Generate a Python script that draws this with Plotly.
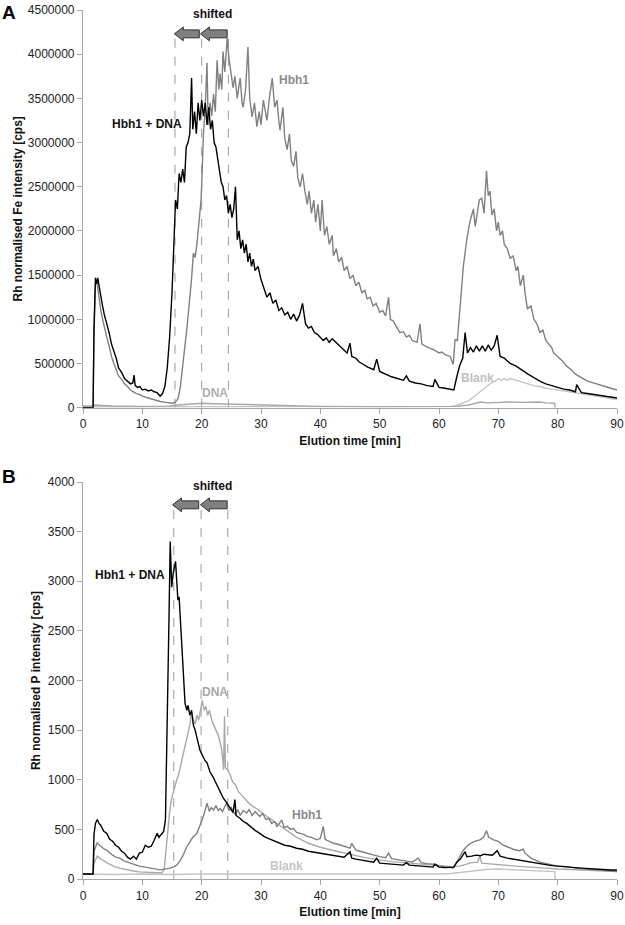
import plotly.graph_objects as go

# ---------------- Panel A: Fe intensity (cps) ----------------
fe_hbh1_dna = [(0,0),(1.7,0),(1.85,900000),(2.1,1470000),(2.3,1400000),(2.5,1470000),(2.7,1380000),(3.0,1250000),(3.3,1150000),(3.6,1050000),(4.0,960000),(4.4,850000),(4.8,720000),(5.2,640000),(5.6,560000),(6.0,450000),(6.5,400000),(7.0,330000),(7.5,300000),(8.0,270000),(8.4,280000),(8.6,370000),(8.8,250000),(9.2,230000),(9.6,240000),(10.0,200000),(10.5,210000),(11.0,190000),(11.5,200000),(12.0,180000),(12.5,170000),(13.0,130000),(13.4,160000),(13.8,240000),(14.2,450000),(14.6,800000),(15.0,1300000),(15.3,1800000),(15.6,2350000),(15.9,2250000),(16.2,2650000),(16.5,2550000),(16.8,2700000),(17.1,2550000),(17.4,2950000),(17.7,3000000),(18.0,3100000),(18.3,3730000),(18.5,3150000),(18.8,3350000),(19.1,3100000),(19.4,3450000),(19.7,3250000),(20.0,3480000),(20.3,3300000),(20.6,3450000),(20.9,3200000),(21.2,3400000),(21.5,3150000),(21.8,3250000),(22.1,3000000),(22.4,2950000),(22.7,2800000),(23.0,2700000),(23.3,2550000),(23.6,2500000),(23.9,2350000),(24.2,2400000),(24.5,2200000),(24.8,2300000),(25.1,2150000),(25.4,2250000),(25.7,2500000),(26.0,1900000),(26.3,2000000),(26.6,1800000),(26.9,1900000),(27.2,1750000),(27.5,1850000),(27.8,1650000),(28.1,1750000),(28.4,1600000),(28.7,1680000),(29.0,1550000),(29.5,1600000),(30.0,1450000),(30.5,1350000),(31.0,1250000),(31.5,1300000),(32.0,1180000),(32.5,1220000),(33.0,1100000),(33.5,1130000),(34.0,1050000),(34.5,1080000),(35.0,1000000),(35.5,1060000),(36.0,980000),(36.5,1050000),(37.0,1180000),(37.5,950000),(38.0,900000),(38.5,920000),(39.0,850000),(39.5,830000),(40.0,800000),(40.5,760000),(41,790000),(41.5,740000),(42,780000),(42.5,750000),(43,720000),(43.5,690000),(44,650000),(44.5,620000),(45,730000),(45.3,580000),(46,560000),(46.5,520000),(47,500000),(47.5,480000),(48,460000),(49,430000),(49.5,550000),(50,410000),(51,380000),(52,350000),(53,330000),(54,310000),(54.5,360000),(55,300000),(56,280000),(57,270000),(58,250000),(59,240000),(59.3,320000),(60,230000),(61,220000),(62,210000),(62.5,200000),(63,350000),(63.5,480000),(64,560000),(64.4,850000),(64.8,620000),(65.3,680000),(65.8,630000),(66.3,700000),(66.8,640000),(67.3,700000),(67.8,640000),(68.3,710000),(68.8,650000),(69.3,700000),(69.8,820000),(70.3,580000),(71,560000),(72,500000),(73,470000),(74,420000),(75,380000),(76,340000),(77,300000),(78,270000),(79,250000),(80,230000),(81,210000),(82,200000),(83,180000),(83.2,260000),(84,170000),(85,160000),(86,150000),(87,140000),(88,130000),(89,120000),(90,110000)]

fe_hbh1 = [(0,0),(1.7,0),(1.85,800000),(2.1,1400000),(2.3,1450000),(2.5,1350000),(2.7,1200000),(3.0,1100000),(3.3,1000000),(3.6,900000),(4.0,800000),(4.4,700000),(4.8,580000),(5.2,500000),(5.6,430000),(6.0,360000),(6.5,320000),(7.0,270000),(7.5,240000),(8.0,200000),(8.5,180000),(9.0,160000),(9.5,150000),(10,130000),(11,110000),(12,90000),(13,70000),(14,60000),(15,50000),(15.5,60000),(16,100000),(16.4,230000),(16.8,450000),(17.2,700000),(17.5,890000),(17.8,1100000),(18.1,1300000),(18.3,1460000),(18.6,1750000),(18.9,1700000),(19.2,1850000),(19.4,2000000),(19.7,2200000),(19.9,2350000),(20.1,2700000),(20.3,3100000),(20.6,3400000),(20.9,3900000),(21.1,3200000),(21.4,3450000),(21.7,3300000),(22.0,3550000),(22.3,3350000),(22.6,3930000),(22.9,3600000),(23.1,3780000),(23.4,3600000),(23.6,4030000),(23.9,3800000),(24.3,4180000),(24.6,3950000),(24.8,3840000),(25.1,3700000),(25.3,3620000),(25.6,3750000),(26.0,3500000),(26.3,3650000),(26.5,3730000),(26.8,3450000),(27.0,3400000),(27.4,3600000),(27.8,4080000),(28.1,3500000),(28.5,3290000),(28.9,3450000),(29.3,3180000),(29.7,3350000),(30.0,3200000),(30.4,3480000),(30.7,3350000),(31.0,3250000),(31.4,3500000),(31.9,3730000),(32.3,3400000),(32.7,3480000),(33.0,3250000),(33.2,3140000),(33.7,3400000),(34.0,3050000),(34.4,2920000),(34.8,3100000),(35.1,2800000),(35.5,2730000),(35.9,2900000),(36.2,2600000),(36.6,2500000),(37.0,2650000),(37.4,2450000),(37.8,2300000),(38.1,2450000),(38.5,2200000),(38.9,2350000),(39.2,2100000),(39.6,2300000),(40.0,2000000),(40.3,2350000),(40.7,1950000),(41.1,2050000),(41.5,1850000),(42.0,1950000),(42.2,1720000),(42.7,1800000),(43.1,1650000),(43.6,1700000),(44.0,1550000),(44.5,1600000),(45,1460000),(45.5,1500000),(46,1380000),(46.5,1420000),(47,1300000),(47.5,1330000),(47.9,1230000),(48.4,1250000),(48.9,1150000),(49.4,1180000),(50,1080000),(50.5,1100000),(51,1040000),(51.5,1250000),(51.8,1000000),(52.3,980000),(52.8,920000),(53.4,850000),(54,860000),(54.5,800000),(55,820000),(55.5,760000),(56.3,740000),(56.8,950000),(57.1,720000),(57.6,700000),(58.2,680000),(59,660000),(59.5,640000),(60,620000),(60.5,630000),(61,600000),(61.5,590000),(61.9,580000),(62.4,490000),(62.7,770000),(63.1,760000),(63.6,1230000),(64.1,1600000),(64.7,1910000),(65.2,2100000),(65.8,2250000),(66.1,2050000),(66.4,2180000),(66.8,2350000),(67.2,2370000),(67.6,2200000),(68.0,2680000),(68.3,2400000),(68.6,2450000),(68.9,2180000),(69.3,2250000),(69.7,2000000),(70.0,2100000),(70.3,1950000),(70.7,2000000),(71.0,1850000),(71.5,1800000),(72.0,1690000),(72.5,1720000),(73.0,1550000),(73.3,1600000),(73.7,1380000),(74.2,1500000),(74.5,1300000),(74.9,1120000),(75.5,1150000),(76,1000000),(76.5,950000),(77,850000),(77.5,880000),(78,760000),(78.5,720000),(79,680000),(79.3,620000),(80,580000),(80.8,530000),(81.5,470000),(82.3,430000),(83,380000),(83.7,350000),(84.4,320000),(85,300000),(86,280000),(87.2,260000),(88,240000),(89,220000),(90,200000)]

fe_dna = [(0,20000),(1.5,20000),(2,30000),(3,25000),(5,20000),(10,15000),(14,15000),(16,30000),(18,40000),(20,50000),(22,45000),(25,40000),(30,25000),(35,20000),(40,15000),(50,12000),(60,12000),(63,15000),(65,30000),(66.5,50000),(67,65000),(68,55000),(70,60000),(72,65000),(74,60000),(76,60000),(77,65000),(78,55000),(79.5,50000),(79.6,0)]

fe_blank = [(0,10000),(10,10000),(20,15000),(30,10000),(40,10000),(50,10000),(60,10000),(62,15000),(63,25000),(64,50000),(65,80000),(66,130000),(67,190000),(68,240000),(69,290000),(69.5,300000),(70,330000),(70.5,310000),(71,330000),(71.5,310000),(72,330000),(73,310000),(74,290000),(75,270000),(76,250000),(77,240000),(78,220000),(79,210000),(80,200000),(82,180000),(84,160000),(86,140000),(88,115000),(90,90000)]

# ---------------- Panel B: P intensity (cps) ----------------
p_hbh1_dna = [(0,50),(1.7,50),(1.85,450),(2.1,560),(2.4,600),(2.7,560),(3.0,540),(3.5,480),(4.0,460),(4.5,400),(5.0,380),(5.5,340),(6.0,320),(6.5,280),(7.0,260),(7.5,220),(8.0,200),(8.5,230),(9.0,200),(9.5,260),(10.0,270),(10.5,340),(11.0,320),(11.5,330),(12.0,390),(12.5,460),(12.8,420),(13.2,450),(13.6,480),(13.9,600),(14.1,1200),(14.3,2000),(14.5,2650),(14.7,3400),(14.95,2940),(15.2,3080),(15.6,3200),(15.8,3000),(16.0,2810),(16.2,2840),(16.6,2410),(16.9,2000),(17.2,1770),(17.5,1700),(17.7,1750),(18.0,1650),(18.3,1700),(18.6,1550),(18.9,1500),(19.3,1400),(19.7,1300),(20.1,1250),(20.5,1200),(20.9,1170),(21.4,1080),(21.9,1030),(22.5,950),(23.1,870),(23.6,820),(24.2,770),(24.8,720),(25.3,670),(25.6,800),(25.8,640),(26.5,610),(27.0,580),(27.6,560),(28.3,520),(29.0,490),(29.8,460),(30.5,430),(31.2,410),(32.0,390),(33.0,360),(34.0,340),(35.0,330),(36.0,310),(37.0,300),(38.0,280),(39.0,270),(40.0,260),(41,250),(42,240),(43,230),(44,220),(45,275),(45.3,210),(46,200),(47,190),(48,180),(49,170),(49.5,210),(50,160),(51,155),(52,150),(53,145),(54,140),(54.5,165),(55,140),(56,135),(57,130),(58,125),(59,120),(59.3,150),(60,120),(61,115),(62,115),(62.5,120),(63,170),(63.6,200),(64.4,275),(64.7,225),(65.5,230),(66.3,240),(67,235),(67.6,250),(68.3,245),(69,240),(69.8,285),(70.3,230),(71.5,210),(72.5,200),(73.5,190),(74.5,175),(75.9,165),(77,150),(78,145),(79,135),(80,130),(81.6,125),(83,115),(84,110),(85,105),(86,100),(87,95),(88,95),(89,90),(90,90)]

p_hbh1 = [(0,50),(1.7,50),(1.85,280),(2.1,330),(2.4,365),(2.8,340),(3.2,320),(3.6,300),(4.0,290),(4.5,260),(5.0,240),(5.5,220),(6.2,210),(7.0,180),(7.5,170),(8.5,150),(9.5,130),(10.5,120),(11.3,110),(12.2,100),(13.0,92),(13.8,100),(14.7,110),(15.3,125),(15.8,140),(16.3,180),(16.8,230),(17.5,325),(18.0,370),(18.5,420),(19.2,460),(19.7,530),(20.1,600),(20.6,695),(20.9,765),(21.3,680),(21.6,720),(22.0,695),(22.4,740),(22.8,690),(23.1,710),(23.5,680),(23.9,740),(24.2,765),(24.6,690),(25.0,720),(25.3,680),(25.7,650),(26.1,700),(26.5,640),(27.0,690),(27.6,665),(28.0,700),(28.5,640),(29.0,680),(29.8,630),(30.3,660),(30.8,600),(31.3,610),(31.8,560),(32.3,580),(32.7,530),(33.1,560),(33.5,595),(33.9,520),(34.4,530),(35,500),(35.5,510),(36.0,470),(36.6,460),(37.2,450),(37.8,430),(38.5,420),(39.4,395),(40.0,410),(40.5,530),(40.8,400),(41.5,380),(42.2,360),(43,350),(44,330),(45,310),(45.3,360),(46,290),(47,275),(47.9,260),(49,240),(50,225),(51,215),(51.5,260),(52,205),(53,195),(53.5,190),(54.5,180),(55.5,170),(56.5,210),(57,165),(58,155),(59,150),(60,135),(61,125),(62.4,110),(63,170),(63.6,240),(64.1,290),(64.7,330),(65.3,360),(66,380),(66.9,395),(67.5,420),(68.0,485),(68.4,420),(69.2,395),(70,380),(70.8,340),(71.5,325),(72.5,300),(73.5,285),(74.2,300),(74.5,260),(75.5,210),(77,170),(78.5,150),(80,130),(81.6,125),(83,110),(85,100),(87,90),(89,80),(90,75)]

p_dna = [(0,50),(1.7,50),(1.85,160),(2.1,200),(2.4,230),(2.8,210),(3.3,190),(4.0,165),(4.8,140),(5.5,120),(6.5,105),(7.5,90),(8.5,80),(9.5,72),(10.5,68),(11.5,62),(12.5,58),(13.3,60),(13.7,100),(14.0,300),(14.3,500),(14.6,680),(14.9,800),(15.3,900),(15.7,980),(16.1,1050),(16.5,1150),(16.9,1250),(17.3,1350),(17.7,1450),(18.0,1550),(18.3,1680),(18.6,1600),(18.9,1560),(19.2,1650),(19.5,1600),(19.8,1720),(20.1,1800),(20.4,1700),(20.7,1740),(21.0,1650),(21.3,1700),(21.7,1600),(22.0,1550),(22.4,1500),(22.8,1450),(23.1,1380),(23.4,1300),(23.7,1100),(23.85,1640),(24.0,1120),(24.4,1100),(24.8,1050),(25.2,980),(25.7,950),(26.2,880),(26.8,840),(27.4,800),(28.0,760),(28.7,730),(29.5,700),(30.3,660),(31.0,630),(32.0,590),(33.0,540),(34.0,500),(35.0,460),(36.0,420),(37.0,390),(38.0,360),(39.0,340),(40.0,320),(42,290),(44,260),(46,235),(48,210),(50,190),(52,175),(55,160),(58,145),(60,135),(62,125),(63.5,130),(64.5,150),(65.5,165),(66.5,170),(66.9,230),(67.2,160),(68,155),(70,145),(72,135),(74,125),(76,120),(78,110),(80,100),(82,95),(84,90),(86,85),(88,80),(90,75)]

p_blank = [(0,50),(5,45),(10,50),(15,45),(20,50),(25,50),(30,45),(35,50),(40,45),(45,50),(50,45),(55,50),(60,50),(62,55),(64,70),(66,85),(68,95),(70,100),(72,95),(74,90),(76,85),(78,80),(79.5,75),(79.6,0)]

fe_ticks = list(range(0, 4500001, 500000))
p_ticks = list(range(0, 4001, 500))
x_ticks = list(range(0, 91, 10))
shift_lines_a = [15.5, 20, 24.5]
shift_lines_b = [15.3, 19.9, 24.4]

FONT = "Arial, Liberation Sans, sans-serif"
W, H = 625, 925
C_BLACK, C_HBH1, C_DNA, C_BLANK = "#000000", "#808080", "#a8a8a8", "#c4c4c4"
AXC = "#a6a6a6"


def unzip(pairs):
    return [p[0] for p in pairs], [p[1] for p in pairs]


fig = go.Figure()
series_a = [(fe_blank, C_BLANK, "Blank"), (fe_dna, C_DNA, "DNA"), (fe_hbh1, C_HBH1, "Hbh1"), (fe_hbh1_dna, C_BLACK, "Hbh1 + DNA")]
series_b = [(p_blank, C_BLANK, "Blank"), (p_dna, C_DNA, "DNA"), (p_hbh1, C_HBH1, "Hbh1"), (p_hbh1_dna, C_BLACK, "Hbh1 + DNA")]
for data, col, name in series_a:
    xs, ys = unzip(data)
    fig.add_trace(go.Scatter(x=xs, y=ys, mode="lines", name=name, line=dict(color=col, width=1.4), xaxis="x", yaxis="y", showlegend=False))
for data, col, name in series_b:
    xs, ys = unzip(data)
    fig.add_trace(go.Scatter(x=xs, y=ys, mode="lines", name=name, line=dict(color=col, width=1.4), xaxis="x2", yaxis="y2", showlegend=False))

xl, xr = 83 / W, 617 / W
axis_common = dict(showgrid=False, zeroline=False, showline=True, linecolor=AXC, linewidth=1.2,
                   ticks="outside", tickcolor=AXC, ticklen=5, tickwidth=1, automargin=False,
                   tickfont=dict(family=FONT, size=12, color="#222222"))
title_font = dict(family=FONT, size=12, color="#111111")

fig.update_layout(
    width=W, height=H, margin=dict(l=0, r=0, t=0, b=0),
    paper_bgcolor="white", plot_bgcolor="white", font=dict(family=FONT),
    xaxis=dict(domain=[xl, xr], anchor="y", range=[0, 90], tickvals=x_ticks,
               title=dict(text="<b>Elution time [min]</b>", font=title_font, standoff=6), **axis_common),
    yaxis=dict(domain=[1 - 407.7 / H, 1 - 10 / H], anchor="x", range=[0, 4500000], tickvals=fe_ticks,
               tickformat="d", title=dict(text="<b>Rh normalised Fe intensity [cps]</b>", font=title_font, standoff=2), **axis_common),
    xaxis2=dict(domain=[xl, xr], anchor="y2", range=[0, 90], tickvals=x_ticks,
                title=dict(text="<b>Elution time [min]</b>", font=title_font, standoff=6), **axis_common),
    yaxis2=dict(domain=[1 - 879 / H, 1 - 482 / H], anchor="x2", range=[0, 4000], tickvals=p_ticks,
                tickformat="d", title=dict(text="<b>Rh normalised P intensity [cps]</b>", font=title_font, standoff=4), **axis_common),
)

# dashed guide lines and "shifted" arrows
def arrow_path(tip, tail, yc, hl, hh, bh):
    return (f"M {tip},{yc} L {tip+hl},{yc+hh} L {tip+hl},{yc+bh} L {tail},{yc+bh} "
            f"L {tail},{yc-bh} L {tip+hl},{yc-bh} L {tip+hl},{yc-hh} Z")

for xv in shift_lines_a:
    fig.add_shape(type="line", xref="x", yref="y", x0=xv, x1=xv, y0=0, y1=4220000,
                  line=dict(color="#9a9a9a", width=1, dash="dash"), layer="below")
for xv in shift_lines_b:
    fig.add_shape(type="line", xref="x2", yref="y2", x0=xv, x1=xv, y0=0, y1=3770,
                  line=dict(color="#9a9a9a", width=1, dash="dash"), layer="below")

arrow_style = dict(fillcolor="#808080", line=dict(color="#303030", width=1))
fig.add_shape(type="path", xref="x", yref="y", path=arrow_path(15.4, 19.6, 4230000, 1.5, 78000, 45000), **arrow_style)
fig.add_shape(type="path", xref="x", yref="y", path=arrow_path(19.8, 24.3, 4230000, 1.5, 78000, 45000), **arrow_style)
fig.add_shape(type="path", xref="x2", yref="y2", path=arrow_path(15.1, 19.5, 3770, 1.5, 70, 40), **arrow_style)
fig.add_shape(type="path", xref="x2", yref="y2", path=arrow_path(19.8, 24.3, 3770, 1.5, 70, 40), **arrow_style)


def label(text, px, py, color, size=12):
    fig.add_annotation(text=f"<b>{text}</b>", x=px / W, y=1 - py / H, xref="paper", yref="paper",
                       showarrow=False, xanchor="center", yanchor="middle",
                       font=dict(family=FONT, size=size, color=color))

label("A", 9, 13, "#000000", 19)
label("B", 9, 477, "#000000", 19)
label("shifted", 212, 14, "#111111")
label("shifted", 212, 486, "#111111")
label("Hbh1 + DNA", 147, 124, "#111111")
label("Hbh1", 294, 80, "#8a8a8a")
label("DNA", 215, 393, "#b0b0b0")
label("Blank", 477, 378, "#c0c0c0")
label("Hbh1 + DNA", 130, 575, "#111111")
label("DNA", 215, 692, "#a8a8a8")
label("Hbh1", 307, 815, "#8a8a8a")
label("Blank", 286, 866, "#c4c4c4")

# the page's default 8px body margin would shift the whole figure; remove it
fig.write_html("out.html", config={"displayModeBar": False},
               post_script="document.body.style.margin='0';document.body.style.overflow='hidden';")
